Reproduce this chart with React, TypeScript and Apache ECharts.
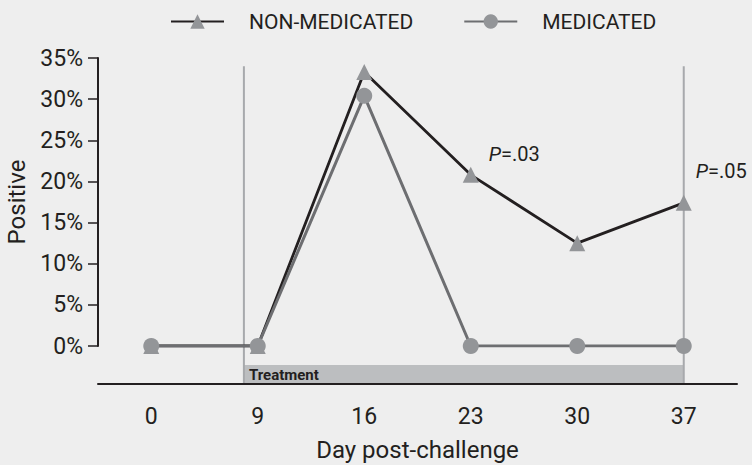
import React, { useEffect, useRef } from "react";
import * as echarts from "echarts";

const days = ["0", "9", "16", "23", "30", "37"];
const nonMedicated = [0, 0, 33.3, 20.8, 12.5, 17.4];
const medicated = [0, 0, 30.4, 0, 0, 0];
const yTicks = [0, 5, 10, 15, 20, 25, 30, 35];
// treatment window in category-index positions (start, end) and top of marker lines (%)
const treatment = [[0.87, 5]];
const treatmentLineTop = 34;
const pValues: Record<number, string> = { 3: ".03", 5: ".05" };

const FONT = "Roboto";
const INK = "#231f20";
const GRAY = "#939598";

export default function App() {
  const ref = useRef<HTMLDivElement>(null);
  useEffect(() => {
    if (!ref.current) return;
    const chart = echarts.init(ref.current, undefined, { renderer: "svg" });
    const pOffsets: Record<number, number[]> = { 3: [10, -21], 5: [4, -32] };
    chart.setOption({
      animation: false,
      backgroundColor: "#eeeeee",
      textStyle: { fontFamily: FONT, color: INK },
      legend: {
        left: 170,
        top: 11,
        padding: 0,
        itemWidth: 53,
        itemHeight: 18,
        itemGap: 50,
        textStyle: { fontFamily: FONT, fontSize: 21, color: INK, padding: [0, 0, 0, 20] },
        data: ["NON-MEDICATED", "MEDICATED"],
      },
      grid: { left: 98, right: 15, top: 58, bottom: 119, containLabel: false, outerBoundsMode: "none" },
      xAxis: [
        {
          type: "category",
          data: days,
          offset: 38,
          boundaryGap: true,
          axisLine: { onZero: false, lineStyle: { color: INK, width: 2 } },
          axisTick: { alignWithLabel: true, length: 11, lineStyle: { color: INK, width: 1.5 } },
          axisLabel: { fontSize: 23, color: INK, margin: 21, fontFamily: FONT },
          name: "Day post-challenge",
          nameLocation: "middle",
          nameGap: 54,
          nameTextStyle: { fontSize: 24, color: INK, fontFamily: FONT },
        },
        { type: "value", min: -0.5, max: 5.5, show: false },
      ],
      yAxis: {
        type: "value",
        min: 0,
        max: 35,
        interval: 5,
        axisLine: { show: true, onZero: false, lineStyle: { color: INK, width: 2 } },
        axisTick: { show: true, length: 10, lineStyle: { color: INK, width: 1.5 } },
        splitLine: { show: false },
        axisLabel: {
          fontSize: 23,
          color: INK,
          margin: 15,
          fontFamily: FONT,
          formatter: (v: number) => (yTicks.includes(v) ? v + "%" : ""),
        },
        name: "Positive",
        nameLocation: "middle",
        nameGap: 64,
        nameTextStyle: { fontSize: 24, color: INK, fontFamily: FONT },
      },
      series: [
        {
          type: "custom",
          xAxisIndex: 1,
          yAxisIndex: 0,
          clip: false,
          silent: true,
          z: 1,
          data: treatment,
          renderItem: (params: any, api: any) => {
            const xs = api.value(0);
            const xe = api.value(1);
            const top = api.coord([xs, treatmentLineTop]);
            const s0 = api.coord([xs, 0]);
            const e0 = api.coord([xe, 0]);
            const axisY = s0[1] + 37;
            return {
              type: "group",
              children: [
                {
                  type: "rect",
                  shape: { x: s0[0], y: s0[1] + 19, width: e0[0] - s0[0], height: 18 },
                  style: { fill: "#bcbec0" },
                },
                {
                  type: "line",
                  shape: { x1: s0[0], y1: top[1], x2: s0[0], y2: axisY },
                  style: { stroke: "#a7a9ac", lineWidth: 2 },
                },
                {
                  type: "line",
                  shape: { x1: e0[0], y1: top[1], x2: e0[0], y2: axisY },
                  style: { stroke: "#a7a9ac", lineWidth: 2 },
                },
                {
                  type: "text",
                  style: {
                    text: "Treatment",
                    x: s0[0] + 5,
                    y: s0[1] + 28.5,
                    verticalAlign: "middle",
                    align: "left",
                    font: `bold 15px ${FONT}`,
                    fill: INK,
                  },
                },
              ],
            };
          },
        },
        {
          name: "NON-MEDICATED",
          type: "line",
          symbol: "triangle",
          symbolSize: 16,
          z: 2,
          lineStyle: { color: INK, width: 2.8 },
          itemStyle: { color: GRAY },
          data: nonMedicated.map((v, i) =>
            pValues[i]
              ? {
                  value: v,
                  label: {
                    show: true,
                    position: "right",
                    distance: 0,
                    offset: pOffsets[i],
                    formatter: `{i|P}{n|=${pValues[i]}}`,
                    rich: {
                      i: { fontStyle: "italic", fontSize: 20, color: INK, fontFamily: FONT },
                      n: { fontSize: 20, color: INK, fontFamily: FONT },
                    },
                  },
                }
              : v
          ),
        },
        {
          name: "MEDICATED",
          type: "line",
          symbol: "circle",
          symbolSize: 16,
          z: 3,
          lineStyle: { color: "#6d6e71", width: 3 },
          itemStyle: { color: GRAY },
          data: medicated,
        },
      ],
    });
    return () => chart.dispose();
  }, []);
  return <div ref={ref} style={{ width: 752, height: 465, position: "absolute", left: 0, top: 0 }} />;
}
